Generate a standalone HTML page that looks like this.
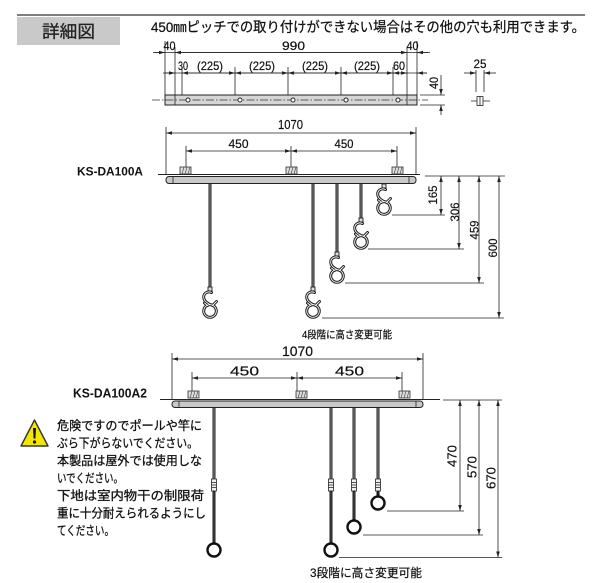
<!DOCTYPE html>
<html><head><meta charset="utf-8"><style>
html,body{margin:0;padding:0;background:#fff;}
svg{display:block;}
</style></head><body>
<svg width="600" height="583" viewBox="0 0 600 583" xmlns="http://www.w3.org/2000/svg" font-family="'Liberation Sans','Noto Sans CJK JP',sans-serif" fill="#111">
<defs>
<marker id="a" viewBox="0 0 10 6" refX="10" refY="3" markerWidth="6" markerHeight="3.6" orient="auto-start-reverse" markerUnits="userSpaceOnUse" preserveAspectRatio="none"><path d="M0,0L10,3L0,6z" fill="#222"/></marker>
<g id="hk" fill="none">
 <path d="M1.5,2.5 C-3,0.5 -7.5,4 -6,9 C-5,12 -2,13.5 0,14.5"/>
 <path d="M2.5,15.5 L6.5,11.5"/>
 <path d="M-2.5,15.5 L-5.5,13"/>
 <circle cx="0" cy="21" r="6.3"/>
</g>
<g id="br">
 <rect x="0" y="0" width="11" height="7" fill="#ddd" stroke="#333" stroke-width="0.8"/>
 <path d="M2,7L4,0M5,7L7,0M8,7L10,0" stroke="#555" stroke-width="0.7"/>
</g>
</defs>

<!-- header -->
<line x1="17" y1="15" x2="585" y2="15" stroke="#555" stroke-width="1.6"/>
<rect x="17" y="17" width="103" height="28" fill="#c9c9c9"/>
<text x="68.5" y="37.5" font-size="17" text-anchor="middle" fill="#222" stroke="#222" stroke-width="0.3" textLength="53" lengthAdjust="spacingAndGlyphs">詳細図</text>
<text x="151" y="32" font-size="14" fill="#111" stroke="#111" stroke-width="0.25" textLength="434" lengthAdjust="spacingAndGlyphs">450㎜ピッチでの取り付けができない場合はその他の穴も利用できます。</text>

<!-- top plan diagram -->
<g stroke="#222" stroke-width="0.8" fill="none">
 <line x1="165" y1="41" x2="165" y2="105"/>
 <line x1="175" y1="47" x2="175" y2="105"/>
 <line x1="407" y1="47" x2="407" y2="105"/>
 <line x1="417" y1="41" x2="417" y2="105"/>
 <line x1="182" y1="67" x2="182" y2="95"/>
 <line x1="235" y1="67" x2="235" y2="95"/>
 <line x1="288" y1="67" x2="288" y2="95"/>
 <line x1="341" y1="67" x2="341" y2="95"/>
 <line x1="393" y1="67" x2="393" y2="95"/>
 <line x1="153" y1="52.5" x2="430" y2="52.5"/>
 <line x1="155" y1="52.5" x2="165" y2="52.5" marker-end="url(#a)"/>
 <line x1="175" y1="52.5" x2="407" y2="52.5" marker-start="url(#a)" marker-end="url(#a)"/>
 <line x1="428" y1="52.5" x2="417" y2="52.5" marker-end="url(#a)"/>
 <line x1="163" y1="73" x2="427" y2="73"/>
 <line x1="165" y1="73" x2="175" y2="73" marker-end="url(#a)"/>
 <line x1="182" y1="73" x2="235" y2="73" marker-start="url(#a)" marker-end="url(#a)"/>
 <line x1="235" y1="73" x2="288" y2="73" marker-start="url(#a)" marker-end="url(#a)"/>
 <line x1="288" y1="73" x2="341" y2="73" marker-start="url(#a)" marker-end="url(#a)"/>
 <line x1="341" y1="73" x2="393" y2="73" marker-start="url(#a)" marker-end="url(#a)"/>
 <line x1="393" y1="73" x2="407" y2="73" marker-start="url(#a)" marker-end="url(#a)"/>
 <line x1="427" y1="73" x2="417" y2="73" marker-end="url(#a)"/>
 <line x1="420" y1="95" x2="445" y2="95"/>
 <line x1="420" y1="105" x2="445" y2="105"/>
 <line x1="441" y1="75" x2="441" y2="95" marker-end="url(#a)"/>
 <line x1="441" y1="115" x2="441" y2="105" marker-end="url(#a)"/>
</g>
<rect x="165" y="95" width="252" height="10" fill="#d6d6d6" stroke="#222" stroke-width="1"/>
<line x1="175" y1="95" x2="175" y2="105" stroke="#222" stroke-width="0.8"/>
<line x1="407" y1="95" x2="407" y2="105" stroke="#222" stroke-width="0.8"/>
<line x1="152" y1="100" x2="428" y2="100" stroke="#333" stroke-width="0.8" stroke-dasharray="8 2 1.5 2"/>
<g fill="#fff" stroke="#222" stroke-width="0.9">
 <circle cx="188" cy="100" r="2"/><circle cx="240" cy="100" r="2"/><circle cx="293" cy="100" r="2"/><circle cx="346" cy="100" r="2"/><circle cx="398" cy="100" r="2"/>
</g>
<g font-size="12" text-anchor="middle" fill="#111" stroke="#111" stroke-width="0.2">
 <text x="169.5" y="50" textLength="12" lengthAdjust="spacingAndGlyphs">40</text>
 <text x="293.5" y="50" textLength="23" lengthAdjust="spacingAndGlyphs">990</text>
 <text x="412.5" y="50" textLength="12" lengthAdjust="spacingAndGlyphs">40</text>
 <text x="183" y="70" textLength="10" lengthAdjust="spacingAndGlyphs">30</text>
 <text x="210" y="70" textLength="26" lengthAdjust="spacingAndGlyphs">(225)</text>
 <text x="262" y="70" textLength="26" lengthAdjust="spacingAndGlyphs">(225)</text>
 <text x="315" y="70" textLength="26" lengthAdjust="spacingAndGlyphs">(225)</text>
 <text x="367" y="70" textLength="26" lengthAdjust="spacingAndGlyphs">(225)</text>
 <text x="399" y="70" textLength="12" lengthAdjust="spacingAndGlyphs">60</text>
 <text transform="translate(434,83) rotate(-90)" dominant-baseline="central" textLength="12" lengthAdjust="spacingAndGlyphs">40</text>
 <text x="480" y="68" textLength="13" lengthAdjust="spacingAndGlyphs">25</text>
</g>
<g stroke="#222" stroke-width="0.8" fill="none">
 <line x1="476" y1="70" x2="476" y2="92"/>
 <line x1="484" y1="70" x2="484" y2="92"/>
 <line x1="464" y1="73" x2="476" y2="73" marker-end="url(#a)"/>
 <line x1="496" y1="73" x2="484" y2="73" marker-end="url(#a)"/>
 <line x1="471" y1="101" x2="490" y2="101"/>
 <rect x="477" y="96.5" width="6" height="9" fill="#fff"/>
 <line x1="480" y1="96.5" x2="480" y2="105.5"/>
</g>

<!-- KS-DA100A -->
<text x="77" y="175.5" font-size="12" font-weight="bold" textLength="66" lengthAdjust="spacingAndGlyphs">KS-DA100A</text>
<g stroke="#222" stroke-width="0.8" fill="none">
 <line x1="166" y1="127" x2="166" y2="175"/>
 <line x1="416" y1="127" x2="416" y2="175"/>
 <line x1="166" y1="133" x2="416" y2="133" marker-start="url(#a)" marker-end="url(#a)"/>
 <line x1="186" y1="146" x2="186" y2="167"/>
 <line x1="291" y1="146" x2="291" y2="167"/>
 <line x1="397" y1="146" x2="397" y2="167"/>
 <line x1="186" y1="151" x2="291" y2="151" marker-start="url(#a)" marker-end="url(#a)"/>
 <line x1="291" y1="151" x2="397" y2="151" marker-start="url(#a)" marker-end="url(#a)"/>
 <line x1="158" y1="174.5" x2="420" y2="174.5" stroke-width="1"/>
 <line x1="425" y1="176" x2="505" y2="176"/>
 <line x1="392" y1="215" x2="445" y2="215"/>
 <line x1="368" y1="249" x2="464" y2="249"/>
 <line x1="345" y1="283" x2="484" y2="283"/>
 <line x1="322" y1="318" x2="504" y2="318"/>
 <line x1="441" y1="176" x2="441" y2="215" marker-start="url(#a)" marker-end="url(#a)"/>
 <line x1="459" y1="176" x2="459" y2="249" marker-start="url(#a)" marker-end="url(#a)"/>
 <line x1="479" y1="176" x2="479" y2="283" marker-start="url(#a)" marker-end="url(#a)"/>
 <line x1="499" y1="176" x2="499" y2="318" marker-start="url(#a)" marker-end="url(#a)"/>
</g>
<use href="#br" x="180" y="167"/><use href="#br" x="286" y="167"/><use href="#br" x="392" y="167"/>
<rect x="166" y="176.5" width="250" height="7" rx="3" fill="#c8c8c8" stroke="#222" stroke-width="1"/>
<line x1="173" y1="176.5" x2="173" y2="183.5" stroke="#222" stroke-width="0.8"/>
<line x1="409" y1="176.5" x2="409" y2="183.5" stroke="#222" stroke-width="0.8"/>
<g font-size="12.5" text-anchor="middle" fill="#111" stroke="#111" stroke-width="0.2">
 <text x="290.5" y="129" textLength="25" lengthAdjust="spacingAndGlyphs">1070</text>
 <text x="238.5" y="148" font-size="11.5" textLength="20" lengthAdjust="spacingAndGlyphs">450</text>
 <text x="344" y="148" font-size="11.5" textLength="19" lengthAdjust="spacingAndGlyphs">450</text>
 <g font-size="12" dominant-baseline="central">
  <text transform="translate(433,195) rotate(-90)" textLength="19" lengthAdjust="spacingAndGlyphs">165</text>
  <text transform="translate(455,212) rotate(-90)" textLength="19" lengthAdjust="spacingAndGlyphs">306</text>
  <text transform="translate(474.5,230) rotate(-90)" textLength="19" lengthAdjust="spacingAndGlyphs">459</text>
  <text transform="translate(493,248) rotate(-90)" textLength="19" lengthAdjust="spacingAndGlyphs">600</text>
 </g>
</g>
<!-- rods diagram1 -->
<g stroke="#222" stroke-width="3">
 <line x1="210" y1="183.5" x2="210" y2="288"/>
 <line x1="313" y1="183.5" x2="313" y2="288"/>
 <line x1="337" y1="183.5" x2="337" y2="253"/>
 <line x1="361" y1="183.5" x2="361" y2="219"/>
</g>
<g stroke="#9a9a9a" stroke-width="0.9">
 <line x1="210" y1="184" x2="210" y2="287"/>
 <line x1="313" y1="184" x2="313" y2="287"/>
 <line x1="337" y1="184" x2="337" y2="252"/>
 <line x1="361" y1="184" x2="361" y2="218"/>
</g>
<g fill="#ddd" stroke="#222" stroke-width="0.9">
 <rect x="208" y="287" width="4" height="4"/>
 <rect x="311" y="287" width="4" height="4"/>
 <rect x="335" y="252" width="4" height="4"/>
 <rect x="359" y="218" width="4" height="4"/>
 <rect x="382" y="184" width="4" height="4"/>
</g>
<g stroke="#1a1a1a" stroke-width="2.9" stroke-linecap="round">
 <use href="#hk" x="210" y="290"/>
 <use href="#hk" x="313" y="290"/>
 <use href="#hk" x="337" y="255"/>
 <use href="#hk" x="361" y="221"/>
 <use href="#hk" x="384" y="187"/>
</g>
<g stroke="#fff" stroke-width="0.9" stroke-linecap="round">
 <use href="#hk" x="210" y="290"/>
 <use href="#hk" x="313" y="290"/>
 <use href="#hk" x="337" y="255"/>
 <use href="#hk" x="361" y="221"/>
 <use href="#hk" x="384" y="187"/>
</g>
<text x="302" y="338" font-size="10.5" fill="#111" stroke="#111" stroke-width="0.2" textLength="90" lengthAdjust="spacingAndGlyphs">4段階に高さ変更可能</text>

<!-- KS-DA100A2 -->
<text x="73" y="397.5" font-size="13" font-weight="bold" textLength="74" lengthAdjust="spacingAndGlyphs">KS-DA100A2</text>
<g stroke="#222" stroke-width="0.8" fill="none">
 <line x1="172" y1="353" x2="172" y2="399"/>
 <line x1="423" y1="353" x2="423" y2="399"/>
 <line x1="172" y1="359" x2="423" y2="359" marker-start="url(#a)" marker-end="url(#a)"/>
 <line x1="192" y1="372" x2="192" y2="391"/>
 <line x1="297" y1="372" x2="297" y2="391"/>
 <line x1="402" y1="372" x2="402" y2="391"/>
 <line x1="192" y1="378" x2="297" y2="378" marker-start="url(#a)" marker-end="url(#a)"/>
 <line x1="297" y1="378" x2="402" y2="378" marker-start="url(#a)" marker-end="url(#a)"/>
 <line x1="160" y1="399.5" x2="440" y2="399.5" stroke-width="1"/>
 <line x1="443" y1="400" x2="502" y2="400"/>
 <line x1="387" y1="511" x2="464" y2="511"/>
 <line x1="363" y1="535" x2="483" y2="535"/>
 <line x1="339" y1="557.5" x2="502" y2="557.5"/>
 <line x1="460" y1="400" x2="460" y2="511" marker-start="url(#a)" marker-end="url(#a)"/>
 <line x1="479" y1="400" x2="479" y2="535" marker-start="url(#a)" marker-end="url(#a)"/>
 <line x1="498" y1="400" x2="498" y2="557.5" marker-start="url(#a)" marker-end="url(#a)"/>
</g>
<use href="#br" x="188" y="391"/><use href="#br" x="296" y="391"/><use href="#br" x="399" y="391"/>
<rect x="172" y="401" width="251" height="6.5" rx="3" fill="#c8c8c8" stroke="#222" stroke-width="1"/>
<line x1="179" y1="401" x2="179" y2="407.5" stroke="#222" stroke-width="0.8"/>
<line x1="416" y1="401" x2="416" y2="407.5" stroke="#222" stroke-width="0.8"/>
<g font-size="13.5" text-anchor="middle" fill="#111" stroke="#111" stroke-width="0.2">
 <text x="297.5" y="356" textLength="31" lengthAdjust="spacingAndGlyphs">1070</text>
 <text x="244.5" y="375.5" font-size="13" textLength="29" lengthAdjust="spacingAndGlyphs">450</text>
 <text x="349.5" y="375.5" font-size="13" textLength="29" lengthAdjust="spacingAndGlyphs">450</text>
 <g font-size="13" dominant-baseline="central">
  <text transform="translate(452,456) rotate(-90)" textLength="22" lengthAdjust="spacingAndGlyphs">470</text>
  <text transform="translate(472,467) rotate(-90)" textLength="22" lengthAdjust="spacingAndGlyphs">570</text>
  <text transform="translate(491,478) rotate(-90)" textLength="22" lengthAdjust="spacingAndGlyphs">670</text>
 </g>
</g>
<!-- rods diagram2 -->
<g stroke="#222" stroke-width="3">
 <line x1="214" y1="407.5" x2="214" y2="479"/>
 <line x1="331" y1="407.5" x2="331" y2="479"/>
 <line x1="354" y1="407.5" x2="354" y2="479"/>
 <line x1="378" y1="407.5" x2="378" y2="479"/>
</g>
<g stroke="#9a9a9a" stroke-width="0.9">
 <line x1="214" y1="408" x2="214" y2="479"/>
 <line x1="331" y1="408" x2="331" y2="479"/>
 <line x1="354" y1="408" x2="354" y2="479"/>
 <line x1="378" y1="408" x2="378" y2="479"/>
</g>
<g stroke="#1a1a1a" stroke-width="3">
 <line x1="214" y1="491" x2="214" y2="543.5"/>
 <line x1="331" y1="491" x2="331" y2="543.5"/>
 <line x1="354" y1="491" x2="354" y2="520.5"/>
 <line x1="378" y1="491" x2="378" y2="496.5"/>
</g>
<g stroke="#666" stroke-width="0.7">
 <line x1="214" y1="492" x2="214" y2="542"/>
 <line x1="331" y1="492" x2="331" y2="542"/>
 <line x1="354" y1="492" x2="354" y2="519"/>
</g>
<g fill="#eee" stroke="#222" stroke-width="0.8">
 <rect x="211.5" y="479" width="5" height="12"/>
 <rect x="328.5" y="479" width="5" height="12"/>
 <rect x="351.5" y="479" width="5" height="12"/>
 <rect x="375.5" y="479" width="5" height="12"/>
</g>
<g stroke="#222" stroke-width="0.8">
 <path d="M211.5,482.5h5M211.5,485h5M211.5,487.5h5"/>
 <path d="M328.5,482.5h5M328.5,485h5M328.5,487.5h5"/>
 <path d="M351.5,482.5h5M351.5,485h5M351.5,487.5h5"/>
 <path d="M375.5,482.5h5M375.5,485h5M375.5,487.5h5"/>
</g>
<g fill="#fff" stroke="#111" stroke-width="2.4">
 <circle cx="214" cy="550" r="6.5"/>
 <circle cx="331" cy="550" r="6.5"/>
 <circle cx="354" cy="527" r="6.5"/>
 <circle cx="378" cy="503" r="6.5"/>
</g>
<text x="310" y="577" font-size="12" fill="#111" stroke="#111" stroke-width="0.2" textLength="112" lengthAdjust="spacingAndGlyphs">3段階に高さ変更可能</text>

<!-- warning -->
<path d="M34.5,420 L48,446 L21,446 Z" fill="#f3e600" stroke="#333" stroke-width="1.4" stroke-linejoin="round"/>
<path d="M33,428 L36,428 L35.4,438.5 L33.6,438.5 Z" fill="#111"/>
<circle cx="34.5" cy="442" r="1.6" fill="#111"/>
<g font-size="12.5" fill="#111" stroke="#111" stroke-width="0.3">
 <text x="57" y="430" textLength="145" lengthAdjust="spacingAndGlyphs">危険ですのでポールや竿に</text>
 <text x="57" y="447.5" textLength="141" lengthAdjust="spacingAndGlyphs">ぶら下がらないでください。</text>
 <text x="57" y="465" textLength="145" lengthAdjust="spacingAndGlyphs">本製品は屋外では使用しな</text>
 <text x="57" y="482.5" textLength="66" lengthAdjust="spacingAndGlyphs">いでください。</text>
 <text x="57" y="500" textLength="147" lengthAdjust="spacingAndGlyphs">下地は室内物干の制限荷</text>
 <text x="57" y="517.5" textLength="149" lengthAdjust="spacingAndGlyphs">重に十分耐えられるようにし</text>
 <text x="57" y="535" textLength="57" lengthAdjust="spacingAndGlyphs">てください。</text>
</g>
</svg>
</body></html>
